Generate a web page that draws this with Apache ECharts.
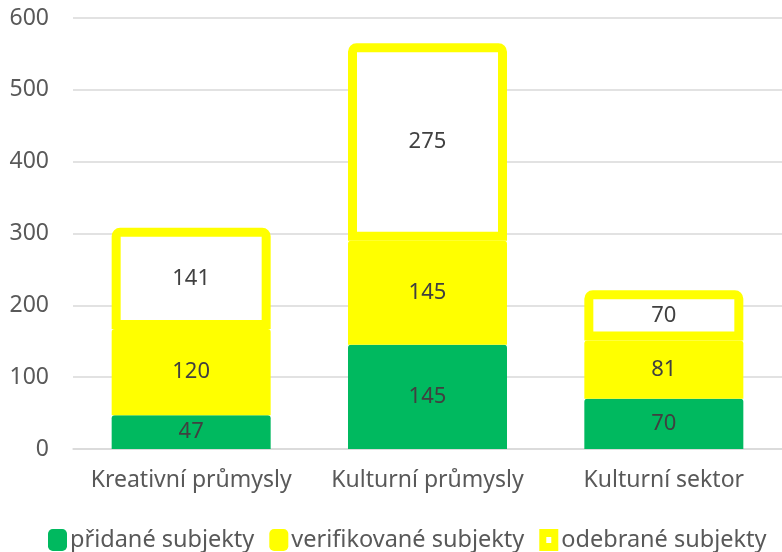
<!DOCTYPE html>
<html>
<head>
<meta charset="utf-8">
<script src="https://cdn.jsdelivr.net/npm/echarts@6/dist/echarts.min.js"></script>
<style>
  html, body { margin: 0; padding: 0; background: #fff; }
  #chart { width: 782px; height: 552px; }
</style>
</head>
<body>
<div id="chart"></div>
<script>
// kategorie a hodnoty
var categories = ['Kreativní průmysly', 'Kulturní průmysly', 'Kulturní sektor'];
var pridane = [47, 145, 70];
var verifikovane = [120, 145, 81];
var odebrane = [141, 275, 70];
var seriesNames = ['přidané subjekty', 'verifikované subjekty', 'odebrané subjekty'];

var font = 'Noto Sans';
var labelStyle = { show: true, position: 'inside', color: '#404040', fontSize: 22, fontFamily: font };

var myChart = echarts.init(document.getElementById('chart'));
myChart.setOption({
    animation: false,
    grid: { left: 73, right: 0, top: 18, bottom: 103 },
    legend: {
        bottom: 0,
        left: 48,
        right: 0,
        padding: 0,
        itemWidth: 19,
        itemHeight: 22,
        itemGap: 15,
        textStyle: { color: '#595959', fontSize: 23.5, fontFamily: font, padding: [0, 0, 0, -2] },
        data: [
            { name: seriesNames[0], icon: 'roundRect' },
            { name: seriesNames[1], icon: 'roundRect' },
            // žlutý rámeček s bílým středem
            { name: seriesNames[2], icon: 'path://M0,0H19V22H0Z M7,8V14H12V8Z',
              itemStyle: { color: '#FFFF00', borderWidth: 0 } }
        ]
    },
    xAxis: {
        type: 'category',
        data: categories,
        axisLine: { lineStyle: { color: '#d9d9d9', width: 1.5 } },
        axisTick: { show: false },
        axisLabel: { color: '#595959', fontSize: 23, fontFamily: font, margin: 20, interval: 0 }
    },
    yAxis: {
        type: 'value',
        min: 0,
        max: 600,
        interval: 100,
        axisLine: { show: false },
        axisTick: { show: false },
        splitLine: { lineStyle: { color: '#d9d9d9', width: 1.5 } },
        axisLabel: { color: '#595959', fontSize: 23, fontFamily: font, margin: 24 }
    },
    series: [
        {
            name: seriesNames[0], type: 'bar', stack: 'a', data: pridane,
            itemStyle: { color: '#00B95F', borderRadius: [3, 3, 0, 0] },
            label: labelStyle
        },
        {
            name: seriesNames[1], type: 'bar', stack: 'a', data: verifikovane,
            itemStyle: { color: '#FFFF00', borderRadius: [3, 3, 0, 0] },
            label: labelStyle
        },
        {
            name: seriesNames[2], type: 'bar', stack: 'a', data: odebrane, barWidth: 159,
            itemStyle: { color: '#FFFFFF', borderColor: '#FFFF00', borderWidth: 9, borderRadius: [4, 4, 0, 0] },
            label: labelStyle
        }
    ]
});
</script>
</body>
</html>
